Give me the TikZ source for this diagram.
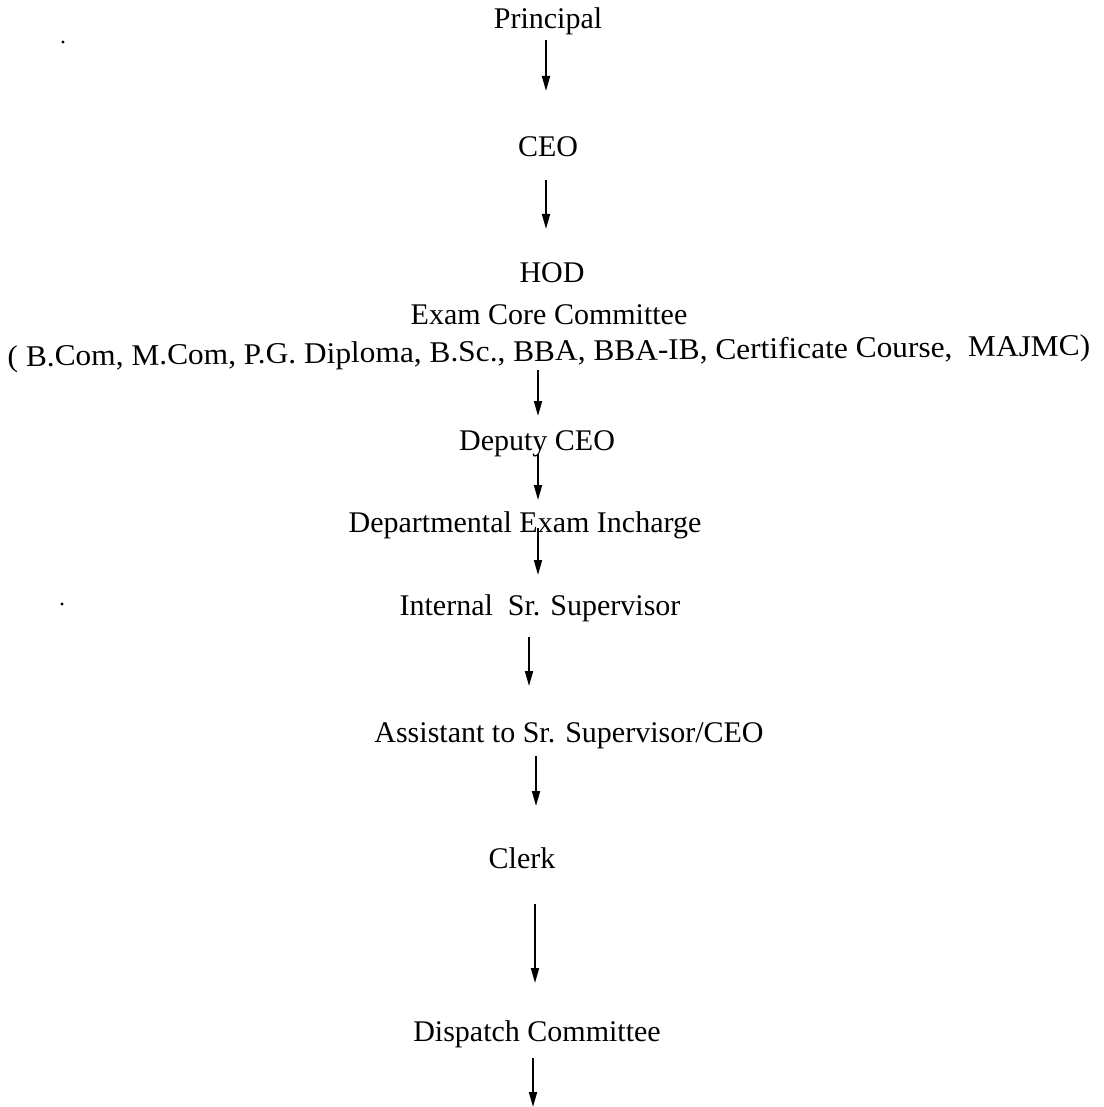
\documentclass[tikz,border=0pt]{standalone}
\usepackage{fontspec}
\setmainfont{Liberation Serif}
\usetikzlibrary{arrows.meta}
\begin{document}
\begin{tikzpicture}[x=1pt,y=-1pt,
  lbl/.style={anchor=base,inner sep=0pt,font=\fontsize{30}{36}\selectfont},
  arr/.style={line width=1.8pt,-{Triangle[length=15pt,width=8pt]}}]
\useasboundingbox (0,0) rectangle (1103,1107);
\node[lbl] (principal) at (548,29) {Principal};
\node[lbl] (ceo) at (548,157) {CEO};
\node[lbl] (hod) at (552,282) {HOD};
\node[lbl] (ecc) at (549,324) {Exam Core Committee};
\node[lbl,xscale=1.046,rotate=0.6] (courses) at (549,361) {( B.Com, M.Com, P.G. Diploma, B.Sc., BBA, BBA-IB, Certificate Course,\ \ MAJMC)};
\node[lbl] (deputy) at (537,450) {Deputy CEO};
\node[lbl] (dei) at (525,532) {Departmental Exam Incharge};
\node[lbl] (iss) at (540,615) {Internal\ \ Sr. Supervisor};
\node[lbl] (asst) at (569,742) {Assistant to Sr. Supervisor/CEO};
\node[lbl] (clerk) at (522,868) {Clerk};
\node[lbl] (dispatch) at (537,1041) {Dispatch Committee};
% connector end points
\coordinate (a1s) at (546,40);  \coordinate (a1e) at (546,91);
\coordinate (a2s) at (546,180); \coordinate (a2e) at (546,229);
\coordinate (a3s) at (538,370); \coordinate (a3e) at (538,416);
\coordinate (a4s) at (538,454); \coordinate (a4e) at (538,500);
\coordinate (a5s) at (538,528); \coordinate (a5e) at (538,575);
\coordinate (a6s) at (529,637); \coordinate (a6e) at (529,686);
\coordinate (a7s) at (536,756); \coordinate (a7e) at (536,806);
\coordinate (a8s) at (535,904); \coordinate (a8e) at (535,983);
\coordinate (a9s) at (533,1058); \coordinate (a9e) at (533,1107);
\draw[arr] (a1s) -- (a1e);
\draw[arr] (a2s) -- (a2e);
\draw[arr] (a3s) -- (a3e);
\draw[arr] (a4s) -- (a4e);
\draw[arr] (a5s) -- (a5e);
\draw[arr] (a6s) -- (a6e);
\draw[arr] (a7s) -- (a7e);
\draw[arr] (a8s) -- (a8e);
\draw[arr] (a9s) -- (a9e);
\fill (63,42) circle (1.6);
\fill (62,604) circle (1.6);
\end{tikzpicture}
\end{document}
